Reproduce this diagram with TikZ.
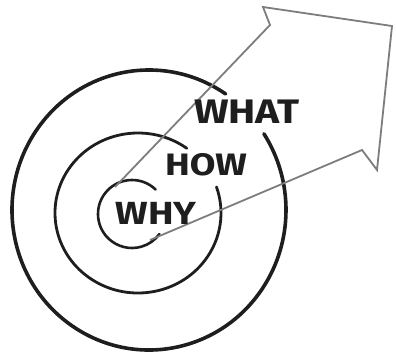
\documentclass[tikz,border=0pt]{standalone}
\usepackage{fontspec}
\setsansfont{Fira Sans}
\usetikzlibrary{positioning}
\definecolor{inkdark}{RGB}{30,30,30}
\definecolor{inkgrey}{RGB}{125,125,125}

\begin{document}
\begin{tikzpicture}[x=1pt,y=-1pt,
    every node/.style={font=\sffamily\bfseries,text=inkdark,inner sep=0pt,xscale=1.2},
    ring/.style={draw=inkdark,line cap=round},
    shaft/.style={draw=inkgrey,line width=1.8pt,line join=miter}]
  \useasboundingbox (0,0) rectangle (396,357);
  % rings
  \coordinate (co) at (149,210);
  \coordinate (cm) at (138,213);
  \coordinate (ci) at (132,214);
  \draw[ring,line width=3.6pt] (co) ++(-56:137 and 140)
    arc[start angle=-56,end angle=-393,x radius=137,y radius=140];
  \draw[ring,line width=2.8pt] (cm) ++(-54:83 and 80)
    arc[start angle=-54,end angle=-379,x radius=83,y radius=80];
  \draw[ring,line width=2.6pt] (ci) ++(-46:34 and 34)
    arc[start angle=-46,end angle=-324,radius=34];
  % arrow
  \draw[shaft] (115,187) -- (270,25) -- (263,7) -- (392,26)
    -- (377,170) -- (362,150) -- (150,240);
  % labels
  \node[font=\sffamily\bfseries\fontsize{34}{34}\selectfont] (what) at (247,112) {WHAT};
  \node[font=\sffamily\bfseries\fontsize{31}{31}\selectfont] (how) at (206,165) {HOW};
  \node[font=\sffamily\bfseries\fontsize{32}{32}\selectfont] (why) at (156,213) {WHY};
\end{tikzpicture}
\end{document}
